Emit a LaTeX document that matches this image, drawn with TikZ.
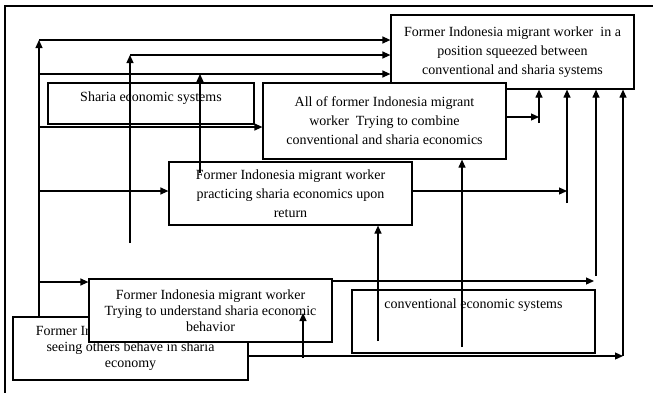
\documentclass[tikz,border=0pt]{standalone}
\usepackage{fontspec}
\setmainfont{Liberation Serif}
\usetikzlibrary{arrows.meta,calc}
\begin{document}
\begin{tikzpicture}[x=1pt,y=-1pt,
  box/.style={draw, line width=1.2pt, fill=white, inner sep=0pt, align=center, font=\fontsize{14}{19}\selectfont},
  lowbox/.style={box, font=\fontsize{14}{16}\selectfont},
  txt/.style={inner sep=0pt, font=\fontsize{14}{16}\selectfont},
  arr/.style={line width=1.2pt, -{Triangle[length=8pt,width=7pt]}},
  frame/.style={line width=1.5pt}]
\useasboundingbox (0,0) rectangle (653,392);
\clip (0,0) rectangle (653,392);
\fill[white] (0,0) rectangle (653,392);
\draw[frame] (5,400) -- (5,6) -- (660,6);

% boxes
\node[box, minimum width=243pt, minimum height=74pt] (T) at (512.5,52)
  {Former Indonesia migrant worker\ \ in a\\position squeezed between\\conventional and sharia systems};
\node[box, minimum width=206pt, minimum height=41pt] (S) at (151,103.5) {};
\node[txt] at ($(S.north)+(0,16)$) {Sharia economic systems};
\node[box, minimum width=243pt, minimum height=76pt] (A) at (384.5,121)
  {All of former Indonesia migrant\\worker\ \ Trying to combine\\conventional and sharia economics};
\node[box, minimum width=243pt, minimum height=63pt] (P) at (290.5,193.5)
  {Former Indonesia migrant worker\\practicing sharia economics upon\\return};
\node[box, minimum width=243pt, minimum height=63pt] (C) at (473.5,321.5) {};
\node[txt] at ($(C.north)+(0,16)$) {conventional economic systems};
\node[lowbox, minimum width=235pt, minimum height=63pt] (E) at (130.5,348.5)
  {Former Indonesia migrant worker\\seeing others behave in sharia\\economy};
\node[lowbox, minimum width=243pt, minimum height=63pt] (U) at (210.5,310.5)
  {Former Indonesia migrant worker\\Trying to understand sharia economic\\behavior};

% free ends
\coordinate (k1) at (39,40);
\coordinate (k2) at (130,55);
\coordinate (k2b) at (130,243);
\coordinate (k3) at (39,74);
\coordinate (k3b) at (200,173);
\coordinate (k4) at (39,127);
\coordinate (k5) at (39,191);
\coordinate (k6) at (39,282);
\coordinate (m7) at (539,117);
\coordinate (m7b) at (539,123);
\coordinate (m8) at (567,191);
\coordinate (m8b) at (567,203);
\coordinate (m9) at (594,281);
\coordinate (m9b) at (596,276);
\coordinate (m10) at (623,356);
\coordinate (n11) at (378,341);
\coordinate (n12) at (462,347);
\coordinate (n13) at (303,358);
\coordinate (n13t) at (303,313);

% connectors
\draw[arr] (E.north -| k1) -- (k1);
\draw[arr] (k1) -- (k1 -| T.west);
\draw[arr] (k2b) -- (k2);
\draw[arr] (k2) -- (k2 -| T.west);
\draw[arr] (k3) -- (k3 -| T.west);
\draw[arr] (k3b) -- (k3b |- k3);
\draw[arr] (k4) -- (k4 -| A.west);
\draw[arr] (k5) -- (k5 -| P.west);
\draw[arr] (k6) -- (k6 -| U.west);
\draw[arr] (m7 -| A.east) -- (m7);
\draw[arr] (m7b) -- (m7b |- T.south);
\draw[arr] (m8 -| P.east) -- (m8);
\draw[arr] (m8b) -- (m8b |- T.south);
\draw[arr] (m9 -| U.east) -- (m9);
\draw[arr] (m9b) -- (m9b |- T.south);
\draw[arr] (m10 -| E.east) -- (m10);
\draw[arr] (m10) -- (m10 |- T.south);
\draw[arr] (n11) -- (n11 |- P.south);
\draw[arr] (n12) -- (n12 |- A.south);
\draw[arr] (n13) -- (n13t);
\end{tikzpicture}
\end{document}
